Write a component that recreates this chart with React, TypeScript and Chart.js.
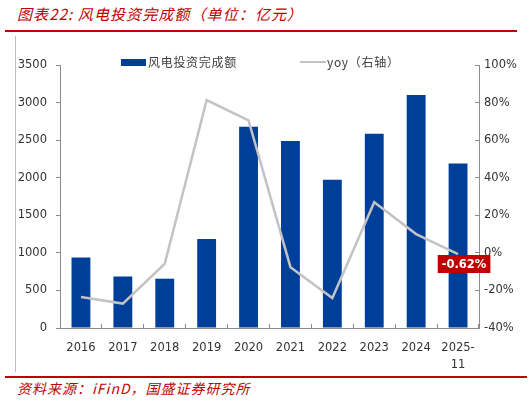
import Chart from 'chart.js/auto'
import React, { useEffect, useRef } from 'react'

// Chart data
const categories: (string | string[])[] = [
  '2016', '2017', '2018', '2019', '2020', '2021', '2022', '2023', '2024', ['2025-', '11'],
]
const investment: number[] = [939, 686, 656, 1183, 2677, 2490, 1972, 2584, 3102, 2189]
const yoy: number[] = [-23.5, -27, -5.8, 81.3, 70.5, -7.6, -24, 27, 10, -0.62]
const leftTicks = { min: 0, max: 3500, step: 500 }
const rightTicks = { min: -40, max: 100, step: 20 }
const lastLabel = '-0.62%'

const RED = '#C00000'
const BLUE = '#003F99'
const GRAY_LINE = '#C3C3C3'
const AXIS = '#8c8c8c'
const TICK_FONT = { family: 'DejaVu Sans', size: 11.5 }

// Red callout on the last yoy point
const lastPointLabel = {
  id: 'lastPointLabel',
  afterDatasetsDraw(chart: Chart) {
    const meta = chart.getDatasetMeta(1)
    const pt = meta.data[meta.data.length - 1]
    if (!pt) return
    const { ctx } = chart
    const cx = pt.x + 6
    const cy = pt.y + 10
    ctx.save()
    ctx.font = 'bold 11.5px "DejaVu Sans"'
    const w = ctx.measureText(lastLabel).width + 8
    ctx.fillStyle = RED
    ctx.fillRect(cx - w / 2, cy - 9, w, 18)
    ctx.fillStyle = '#ffffff'
    ctx.textAlign = 'center'
    ctx.textBaseline = 'middle'
    ctx.fillText(lastLabel, cx, cy + 0.5)
    ctx.restore()
  },
}

const WindChart: React.FC = () => {
  const canvasRef = useRef<HTMLCanvasElement>(null)
  const chartRef = useRef<Chart | null>(null)

  useEffect(() => {
    if (!canvasRef.current) return
    chartRef.current = new Chart(canvasRef.current, {
      type: 'bar',
      data: {
        labels: categories,
        datasets: [
          {
            type: 'bar',
            label: '风电投资完成额',
            data: investment,
            backgroundColor: BLUE,
            barPercentage: 0.45,
            categoryPercentage: 1,
            yAxisID: 'y',
            order: 1,
          },
          {
            type: 'line',
            label: 'yoy（右轴）',
            data: yoy,
            borderColor: GRAY_LINE,
            borderWidth: 2.5,
            pointRadius: 0,
            tension: 0,
            yAxisID: 'y1',
            order: 0,
          },
        ],
      },
      options: {
        animation: false,
        responsive: false,
        maintainAspectRatio: false,
        layout: { padding: { top: 29, left: 0, right: 0, bottom: 0 } },
        plugins: {
          legend: { display: false },
          tooltip: { enabled: false },
        },
        scales: {
          x: {
            grid: { drawOnChartArea: false, tickLength: -4, color: AXIS },
            border: { color: AXIS },
            ticks: { color: '#333', font: { ...TICK_FONT, lineHeight: 1.45 }, padding: 16, maxRotation: 0 },
            afterFit: (s: any) => { s.height = 44 },
          },
          y: {
            position: 'left',
            min: leftTicks.min,
            max: leftTicks.max,
            grid: { drawOnChartArea: false, tickLength: 4, color: AXIS },
            border: { color: AXIS },
            ticks: {
              stepSize: leftTicks.step,
              color: '#333',
              font: TICK_FONT,
              padding: 9,
              callback: (v: any) => String(v),
            },
            afterFit: (s: any) => { s.width = 60 },
          },
          y1: {
            position: 'right',
            min: rightTicks.min,
            max: rightTicks.max,
            grid: { drawOnChartArea: false, tickLength: -4, color: AXIS },
            border: { color: AXIS },
            ticks: {
              stepSize: rightTicks.step,
              color: '#333',
              font: TICK_FONT,
              padding: 9,
              callback: (v: any) => `${v}%`,
            },
            afterFit: (s: any) => { s.width = 53 },
          },
        },
      },
      plugins: [lastPointLabel],
    })
    return () => {
      if (chartRef.current) chartRef.current.destroy()
    }
  }, [])

  const cjk = '"Noto Sans CJK SC", sans-serif'

  return (
    <div style={{ position: 'absolute', left: 0, top: 0, width: 532, height: 401, background: '#fff', overflow: 'hidden' }}>
      <div style={{ position: 'absolute', left: 17, top: 4, fontFamily: cjk, fontStyle: 'italic', fontSize: 15, letterSpacing: 1.1, color: RED, lineHeight: '20px', whiteSpace: 'nowrap' }}>
        图表22: 风电投资完成额（单位：亿元）
      </div>
      <div style={{ position: 'absolute', left: 5, top: 30, width: 512, height: 1.5, background: RED }} />
      <div style={{ position: 'absolute', left: 15, top: 36, width: 1, height: 336, background: '#bdbdbd' }} />
      <canvas ref={canvasRef} width={532} height={336} style={{ position: 'absolute', left: 0, top: 36, width: 532, height: 336 }} />
      {/* legend */}
      <div style={{ position: 'absolute', left: 121, top: 59, width: 25, height: 7, background: BLUE }} />
      <div style={{ position: 'absolute', left: 148, top: 53, fontFamily: cjk, fontSize: 12, letterSpacing: 0.7, color: '#404040', lineHeight: '18px', whiteSpace: 'nowrap' }}>
        风电投资完成额
      </div>
      <div style={{ position: 'absolute', left: 300, top: 61, width: 26, height: 2, background: GRAY_LINE }} />
      <div style={{ position: 'absolute', left: 327, top: 53, fontFamily: cjk, fontSize: 12, letterSpacing: 0.7, color: '#404040', lineHeight: '18px', whiteSpace: 'nowrap' }}>
        yoy（右轴）
      </div>
      <div style={{ position: 'absolute', left: 5, top: 376, width: 522, height: 1.5, background: RED }} />
      <div style={{ position: 'absolute', left: 17, top: 379, fontFamily: cjk, fontStyle: 'italic', fontSize: 14, letterSpacing: 1, color: RED, lineHeight: '19px', whiteSpace: 'nowrap' }}>
        资料来源：iFinD，国盛证券研究所
      </div>
    </div>
  )
}

export default function App() {
  return <WindChart />
}
